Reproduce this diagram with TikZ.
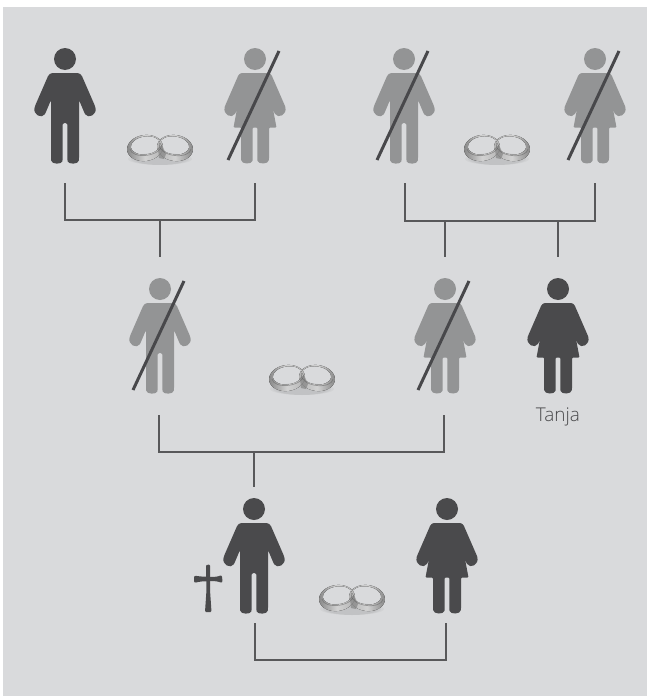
\documentclass[tikz,border=0pt]{standalone}
\usepackage{fontspec}
\setmainfont{Open Sans Light}
\definecolor{bgC}{HTML}{D9DADC}
\definecolor{darkC}{HTML}{4A4A4C}
\definecolor{paleC}{HTML}{939495}
\definecolor{lineC}{HTML}{58585A}
\definecolor{slashC}{HTML}{48484B}
\definecolor{ringA}{HTML}{B2B2B2}
\definecolor{ringB}{HTML}{858585}
\definecolor{ringC}{HTML}{D2D2D2}
\definecolor{ringIn}{HTML}{D8D9DA}
\tikzset{
  x=1pt,y=-1pt,
  bracket/.style={draw=lineC,line width=2pt},
  thinstem/.style={draw=lineC,line width=1.2pt},
  slashline/.style={draw=slashC,line width=3pt},
  pics/man/.style={code={
    \fill[#1] (0,0) circle (11);
    \fill[#1,rounded corners=1.5pt] (-14,14) -- (14,14) -- (16.5,16) -- (30,47) .. controls (32.5,56) and (23,60) .. (19.5,54) -- (14,41) -- (14,100) .. controls (13.5,105.5) and (3.5,105.5) .. (2.3,101) -- (2.3,64) -- (-2.3,64) -- (-2.3,101) .. controls (-3.5,105.5) and (-13.5,105.5) .. (-14,100) -- (-14,41) -- (-19.5,54) .. controls (-23,60) and (-32.5,56) .. (-30,47) -- (-16.5,16) -- cycle;
  }},
  pics/woman/.style={code={
    \fill[#1] (0,0) circle (11);
    \fill[#1,rounded corners=1pt] (-14,14) -- (14,14) -- (16.5,16) -- (30,47) .. controls (32.5,56) and (23,60) .. (19.5,54) -- (18,50) -- (21.5,68.5) -- (14,68.5) -- (14,100) .. controls (13.5,105.5) and (3.5,105.5) .. (2.3,101) -- (2.3,68.5) -- (-2.3,68.5) -- (-2.3,101) .. controls (-3.5,105.5) and (-13.5,105.5) .. (-14,100) -- (-14,68.5) -- (-21.5,68.5) -- (-18,50) -- (-19.5,54) .. controls (-23,60) and (-32.5,56) .. (-30,47) -- (-16.5,16) -- cycle;
  }},
  pics/slashmark/.style={code={
    \draw[slashline] (24,-8) -- (-27,101);
  }},
  pics/rings/.style={code={
    \foreach \s in {32,29,26} {\fill[black,opacity=.035] (0,11) ellipse (\s pt and 6pt);}
    \begin{scope}[even odd rule]
      \fill[left color=ringA,right color=ringB,middle color=ringC,shift={(15,0)},rotate=-8] (0,0) ellipse (18 and 13) (-1,-2.5) ellipse (15 and 9);
      \fill[left color=ringB,right color=ringA,middle color=ringC,shift={(-15,0)},rotate=8] (0,0) ellipse (18 and 13) (1,-2.5) ellipse (15 and 9);
    \end{scope}
    \fill[ringB,opacity=.7] (-2,0) -- (2,-3) -- (6,6) -- (4,11) -- (-1,10) -- cycle;
    \draw[ringB!70!black,line width=.7pt,opacity=.5,shift={(-15,0)},rotate=8] (-15,-1) arc[start angle=180,end angle=360,x radius=16,y radius=-8.5];
    \draw[ringB!70!black,line width=.7pt,opacity=.5,shift={(15,0)},rotate=-8] (-16,-1) arc[start angle=180,end angle=360,x radius=16,y radius=-8.5];
  }},
}
\begin{document}
\begin{tikzpicture}
\useasboundingbox (0,0) rectangle (647,696);
\fill[white] (0,0) rectangle (647,696);
\fill[bgC] (3,7) rectangle (647,696);
% figures, top row
\pic at (65,59) {man=darkC};
\pic at (255,59) {woman=paleC};
\pic at (255,59) {slashmark};
\pic at (404,59) {man=paleC};
\pic at (404,59) {slashmark};
\pic at (595,59) {woman=paleC};
\pic at (595,59) {slashmark};
% middle row
\pic at (160,289) {man=paleC};
\pic at (160,289) {slashmark};
\pic at (445,289) {woman=paleC};
\pic at (445,289) {slashmark};
\pic at (558,289) {woman=darkC};
\node[text=darkC,font=\fontsize{19}{22}\selectfont,inner sep=0pt,anchor=base] (tanja) at (558,421) {Tanja};
% bottom row
\pic at (254,509) {man=darkC};
\pic at (447,509) {woman=darkC};
% cross
\fill[darkC,rounded corners=1pt] (206,565) -- (210,564.5) -- (210,590) -- (211.5,612) -- (205,612) -- (206.5,590) -- cycle;
\fill[darkC,rounded corners=2pt] (194,575.5) -- (200,576.5) -- (216,577) -- (222,575) -- (222.5,583) -- (216,581) -- (200,581.5) -- (194,583) -- cycle;
% rings
\pic at (160,148) {rings};
\pic at (497,148) {rings};
\pic at (302,378) {rings};
\pic at (352,598) {rings};
% connectors
\coordinate (a1) at (65,183);  \coordinate (a2) at (255,183);
\coordinate (aj) at (160,220); \coordinate (as) at (160,257);
\coordinate (b1) at (405,183); \coordinate (b2) at (595,183);
\coordinate (bj) at (445,221); \coordinate (bs) at (445,257);
\coordinate (bk) at (558,221); \coordinate (bt) at (558,257);
\coordinate (c1) at (159,415); \coordinate (c2) at (444,415);
\coordinate (cj) at (254,452); \coordinate (cs) at (254,487);
\coordinate (d1) at (255,623); \coordinate (d2) at (446,623);
\coordinate (dj) at (350,660);
\draw[bracket] (a1) |- (aj) -| (a2);
\draw[bracket] (aj) -- (as);
\draw[bracket] (b1) |- (bj) -| (b2);
\draw[bracket] (bj) -- (bs);
\draw[thinstem] (bk) -- (bt);
\draw[bracket] (c1) |- (cj) -| (c2);
\draw[bracket] (cj) -- (cs);
\draw[bracket] (d1) |- (dj) -| (d2);
\end{tikzpicture}
\end{document}
